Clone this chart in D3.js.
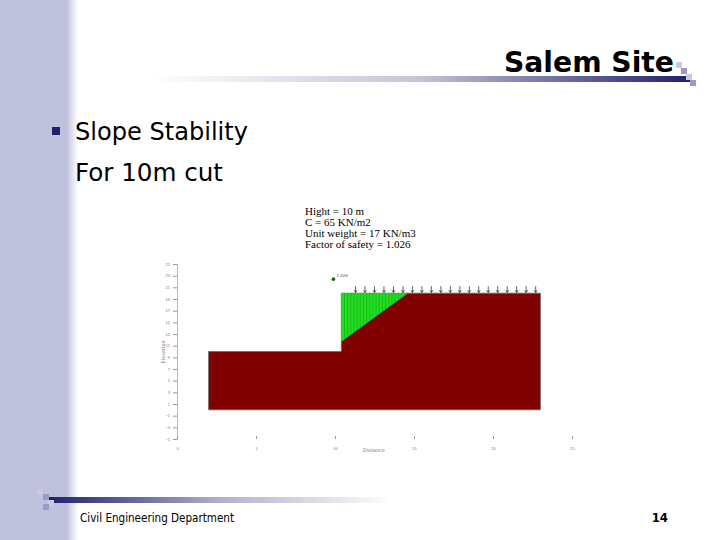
<!DOCTYPE html>
<html><head><meta charset="utf-8">
<script src="https://cdn.jsdelivr.net/npm/d3@7"></script>
<style>body{margin:0;background:#fff}svg{display:block}</style>
</head><body>
<script>
// chart data
var yTicks = [-5, -3, -1, 1, 3, 5, 7, 9, 11, 13, 15, 17, 19, 21, 23, 25],
    xTicks = [0, 5, 10, 15, 20, 25],
    soil = [[2, 0], [2, 10], [10.4, 10], [10.4, 11.7], [14.6, 20], [23, 20], [23, 0]],
    wedge = [[10.4, 11.7], [10.4, 20], [14.6, 20]],
    slices = [10.6, 10.8, 11.0, 11.2, 11.4, 11.6, 11.8, 12.0, 12.2, 12.4, 12.6, 12.8, 13.0, 13.2, 13.4, 13.6, 13.8, 14.0, 14.2, 14.4],
    loads = [11.3, 11.9, 12.5, 13.1, 13.7, 14.3, 14.9, 15.5, 16.1, 16.7, 17.3, 17.9, 18.5, 19.1, 19.7, 20.3, 20.9, 21.5, 22.1, 22.7],
    centre = [9.9, 22.4],
    fosLabel = '1.026',
    notes = ['Hight = 10 m', 'C = 65 KN/m2', 'Unit weight = 17 KN/m3', 'Factor of safety = 1.026'];

var svg = d3.select('body').append('svg').attr('width', 720).attr('height', 540);
var defs = svg.append('defs');

function grad(id, stops) {
    var g = defs.append('linearGradient').attr('id', id);
    stops.forEach(function (s) { g.append('stop').attr('offset', s[0]).attr('stop-color', s[1]); });
}
grad('side', [[0, '#bfc0dc'], [0.85, '#bfc0dc'], [1, '#ffffff']]);
grad('topbar', [[0, '#ffffff'], [0.5, '#c4c4d6'], [1, '#1f1f70']]);
grad('botbar', [[0, '#1f1f70'], [0.5, '#b0b0cc'], [1, '#ffffff']]);

// slide frame
svg.append('rect').attr('width', 78).attr('height', 540).attr('fill', 'url(#side)');
svg.append('rect').attr('x', 150).attr('y', 76).attr('width', 540).attr('height', 6).attr('fill', 'url(#topbar)');
svg.append('rect').attr('x', 48).attr('y', 497).attr('width', 345).attr('height', 6).attr('fill', 'url(#botbar)');
[[676, 62, '#c8c8e0'], [681, 68, '#9a9ac4'], [686, 74, '#c8c8e0'], [690, 80, '#9a9ac4']].forEach(function (s) {
    svg.append('rect').attr('x', s[0]).attr('y', s[1]).attr('width', 6).attr('height', 6).attr('fill', s[2]);
});
[[37, 489, '#c8c8e0'], [43, 494, '#9a9ac4'], [48, 500, '#c8c8e0'], [43, 504, '#9a9ac4']].forEach(function (s) {
    svg.append('rect').attr('x', s[0]).attr('y', s[1]).attr('width', 6).attr('height', 6).attr('fill', s[2]);
});

var sans = "'DejaVu Sans Condensed', 'DejaVu Sans'";
svg.append('text').attr('x', 674).attr('y', 72).attr('text-anchor', 'end')
    .attr('font-family', sans).attr('font-weight', 'bold').attr('font-size', 28)
    .attr('textLength', 170).attr('lengthAdjust', 'spacingAndGlyphs').text('Salem Site');
svg.append('rect').attr('x', 52).attr('y', 127).attr('width', 8).attr('height', 8).attr('fill', '#1f1f70');
svg.append('text').attr('x', 75).attr('y', 140).attr('font-family', sans).attr('font-size', 24)
    .attr('textLength', 173).attr('lengthAdjust', 'spacingAndGlyphs').text('Slope Stability');
svg.append('text').attr('x', 75).attr('y', 181).attr('font-family', sans).attr('font-size', 24)
    .attr('textLength', 148).attr('lengthAdjust', 'spacingAndGlyphs').text('For 10m cut');
svg.append('text').attr('x', 80).attr('y', 522).attr('font-family', sans).attr('font-size', 12)
    .attr('textLength', 154).attr('lengthAdjust', 'spacingAndGlyphs').text('Civil Engineering Department');
svg.append('text').attr('x', 668).attr('y', 522).attr('text-anchor', 'end').attr('font-family', sans)
    .attr('font-weight', 'bold').attr('font-size', 13).text('14');

// notes
svg.append('g').selectAll('text').data(notes).join('text')
    .attr('x', 305).attr('y', function (d, i) { return 215 + i * 11; })
    .attr('font-family', 'Liberation Serif').attr('font-size', 11).text(function (d) { return d; });

// chart
var x = d3.scaleLinear().domain([0, 25]).range([177, 572]),
    y = d3.scaleLinear().domain([-5, 25]).range([439, 264]);

var ax = svg.append('g').attr('font-family', 'DejaVu Sans');
ax.append('g').attr('transform', 'translate(177,0)')
    .call(d3.axisLeft(y).tickValues(yTicks).tickSize(4))
    .call(function (g) { g.select('.domain').attr('stroke', '#bbb'); g.selectAll('line').attr('stroke', '#999');
        g.selectAll('text').attr('font-size', 4).attr('fill', '#777'); });
ax.append('g').attr('transform', 'translate(0,439)')
    .call(d3.axisTop(x).tickValues(xTicks).tickSize(3))
    .call(function (g) { g.select('.domain').remove(); g.selectAll('line').attr('stroke', '#999');
        g.selectAll('text').attr('font-size', 4).attr('fill', '#777').attr('dy', '1.2em').attr('y', 6); });
svg.append('text').attr('x', 374).attr('y', 452).attr('text-anchor', 'middle').attr('font-size', 5)
    .attr('font-family', 'DejaVu Sans').attr('fill', '#777').text('Distance');
svg.append('text').attr('transform', 'translate(165,352) rotate(-90)').attr('text-anchor', 'middle')
    .attr('font-size', 5).attr('font-family', 'DejaVu Sans').attr('fill', '#777').text('Elevation');

var line = d3.line().x(function (d) { return x(d[0]); }).y(function (d) { return y(d[1]); });
svg.append('path').attr('d', line(soil) + 'Z').attr('fill', '#800000').attr('stroke', '#666').attr('stroke-width', 0.8);
svg.append('path').attr('d', line(wedge) + 'Z').attr('fill', '#22dd22').attr('stroke', '#109010').attr('stroke-width', 0.6);

// slice lines: bottom on slope line
var sx0 = wedge[0][0], sy0 = wedge[0][1], sx1 = wedge[2][0], sy1 = wedge[2][1];
svg.append('g').selectAll('line').data(slices).join('line')
    .attr('x1', function (d) { return x(d); }).attr('x2', function (d) { return x(d); })
    .attr('y1', y(20))
    .attr('y2', function (d) { return y(sy0 + (d - sx0) / (sx1 - sx0) * (sy1 - sy0)); })
    .attr('stroke', '#119911').attr('stroke-width', 0.5);

// surface loads
var lg = svg.append('g').attr('stroke', '#222').attr('stroke-width', 0.7);
loads.forEach(function (d) {
    lg.append('line').attr('x1', x(d)).attr('x2', x(d)).attr('y1', y(20) - 7).attr('y2', y(20) - 1);
    lg.append('path').attr('d', 'M' + (x(d) - 1.5) + ',' + (y(20) - 3) + 'L' + x(d) + ',' + (y(20) - 0.5) + 'L' + (x(d) + 1.5) + ',' + (y(20) - 3)).attr('fill', 'none');
});

svg.append('circle').attr('cx', x(centre[0])).attr('cy', y(centre[1])).attr('r', 1.8).attr('fill', '#116611');
svg.append('text').attr('x', x(centre[0]) + 3).attr('y', y(centre[1]) - 2).attr('font-size', 4)
    .attr('font-family', 'DejaVu Sans').attr('fill', '#555').text(fosLabel);
</script>
</body></html>
